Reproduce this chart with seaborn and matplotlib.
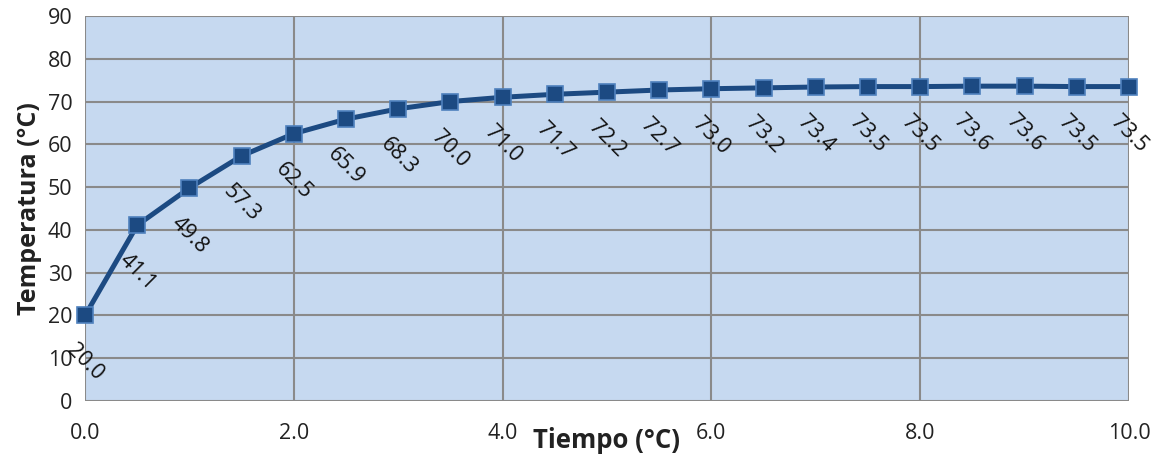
import matplotlib
matplotlib.use("Agg")
import matplotlib.pyplot as plt
import seaborn as sns
import pandas as pd

tiempo = [0.0, 0.5, 1.0, 1.5, 2.0, 2.5, 3.0, 3.5, 4.0, 4.5, 5.0, 5.5, 6.0, 6.5, 7.0, 7.5, 8.0, 8.5, 9.0, 9.5, 10.0]
temperatura = [20.0, 41.1, 49.8, 57.3, 62.5, 65.9, 68.3, 70.0, 71.0, 71.7, 72.2, 72.7, 73.0, 73.2, 73.4, 73.5, 73.5, 73.6, 73.6, 73.5, 73.5]
x_ticks = [0, 2, 4, 6, 8, 10]
x_ticklabels = ["0.0", "2.0", "4.0", "6.0", "8.0", "10.0"]
y_ticks = [0, 10, 20, 30, 40, 50, 60, 70, 80, 90]

df = pd.DataFrame({"Tiempo": tiempo, "Temperatura": temperatura})

sns.set_style("white")
plt.rcParams['font.family'] = ['Open Sans', 'DejaVu Sans']

fig = plt.figure(figsize=(11.62, 4.57), dpi=100)
ax = fig.add_axes([0.0732, 0.1225, 0.8984, 0.8425])
ax.set_facecolor("#c6d9f0")

grid_c = "#8a8a8a"
sns.lineplot(data=df, x="Tiempo", y="Temperatura", ax=ax, color="#1c4a82",
             linewidth=3.6, marker="s", markersize=11.5,
             markerfacecolor="#1c4a82", markeredgecolor="#4f81bd",
             markeredgewidth=1.2, zorder=5, clip_on=False)

for xv, yv in zip(tiempo, temperatura):
    ax.annotate(f"{yv:.1f}", (xv, yv), xytext=(0, -34), textcoords="offset points",
                ha="center", va="center", rotation=-45, fontsize=15.5,
                color="#111111", zorder=6, annotation_clip=False)

ax.set_xlim(0, 10)
ax.set_ylim(0, 90)
ax.set_xticks(x_ticks)
ax.set_xticklabels(x_ticklabels)
ax.set_yticks(y_ticks)
ax.grid(True, color=grid_c, linewidth=1.5)
ax.set_axisbelow(True)
for s in ax.spines.values():
    s.set_visible(False)
ax.tick_params(axis="both", which="both", length=6, width=1.5, color=grid_c,
               labelsize=15.5, labelcolor="#222222", pad=3)
ax.tick_params(axis="x", pad=10)

ax.set_xlabel("")
ax.set_ylabel("Temperatura (°C)", fontsize=18, fontweight="bold", color="#222222", labelpad=4)
fig.text(0.522, 0.037, "Tiempo (°C)", fontsize=18.5, fontweight="bold", color="#222222",
         ha="center", va="center")

fig.savefig("out.png", dpi=100, facecolor="white")
